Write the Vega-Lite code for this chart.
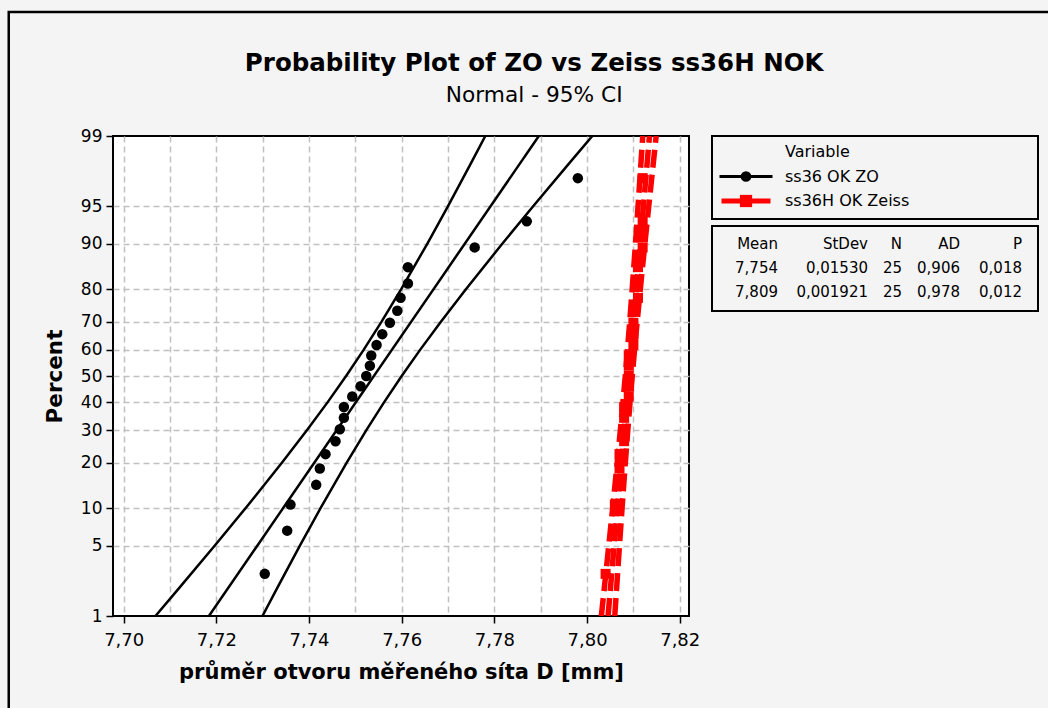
{
  "$schema": "https://vega.github.io/schema/vega-lite/v6.json",
  "background": "#f4f4f4",
  "padding": {"left": 6, "top": 9, "right": 0, "bottom": 0},
  "bounds": "flush",
  "spacing": 23,
  "title": {
    "text": "Probability Plot of ZO vs Zeiss ss36H NOK",
    "subtitle": "Normal - 95% CI",
    "anchor": "middle",
    "dx": -7,
    "font": "DejaVu Sans",
    "fontSize": 24.5,
    "fontWeight": "bold",
    "color": "black",
    "subtitleFont": "DejaVu Sans",
    "subtitleFontSize": 21.7,
    "subtitleColor": "black",
    "subtitlePadding": 9,
    "offset": -98
  },
  "datasets": {
    "main": [
      {"series": "ss36 OK ZO", "kind": "pt", "pct": 2.756, "x": 7.73045},
      {"series": "ss36 OK ZO", "kind": "pt", "pct": 6.693, "x": 7.73529},
      {"series": "ss36 OK ZO", "kind": "pt", "pct": 10.630, "x": 7.73600},
      {"series": "ss36 OK ZO", "kind": "pt", "pct": 14.567, "x": 7.74155},
      {"series": "ss36 OK ZO", "kind": "pt", "pct": 18.504, "x": 7.74233},
      {"series": "ss36 OK ZO", "kind": "pt", "pct": 22.441, "x": 7.74356},
      {"series": "ss36 OK ZO", "kind": "pt", "pct": 26.378, "x": 7.74572},
      {"series": "ss36 OK ZO", "kind": "pt", "pct": 30.315, "x": 7.74665},
      {"series": "ss36 OK ZO", "kind": "pt", "pct": 34.252, "x": 7.74752},
      {"series": "ss36 OK ZO", "kind": "pt", "pct": 38.189, "x": 7.74752},
      {"series": "ss36 OK ZO", "kind": "pt", "pct": 42.126, "x": 7.74933},
      {"series": "ss36 OK ZO", "kind": "pt", "pct": 46.063, "x": 7.75112},
      {"series": "ss36 OK ZO", "kind": "pt", "pct": 50.000, "x": 7.75235},
      {"series": "ss36 OK ZO", "kind": "pt", "pct": 53.937, "x": 7.75313},
      {"series": "ss36 OK ZO", "kind": "pt", "pct": 57.874, "x": 7.75343},
      {"series": "ss36 OK ZO", "kind": "pt", "pct": 61.811, "x": 7.75458},
      {"series": "ss36 OK ZO", "kind": "pt", "pct": 65.748, "x": 7.75581},
      {"series": "ss36 OK ZO", "kind": "pt", "pct": 69.685, "x": 7.75745},
      {"series": "ss36 OK ZO", "kind": "pt", "pct": 73.622, "x": 7.75905},
      {"series": "ss36 OK ZO", "kind": "pt", "pct": 77.559, "x": 7.75976},
      {"series": "ss36 OK ZO", "kind": "pt", "pct": 81.496, "x": 7.76134},
      {"series": "ss36 OK ZO", "kind": "pt", "pct": 85.433, "x": 7.76134},
      {"series": "ss36 OK ZO", "kind": "pt", "pct": 89.370, "x": 7.77575},
      {"series": "ss36 OK ZO", "kind": "pt", "pct": 93.307, "x": 7.78699},
      {"series": "ss36 OK ZO", "kind": "pt", "pct": 97.244, "x": 7.79801},

      {"series": "ss36H OK Zeiss", "kind": "pt", "pct": 2.756, "x": 7.804},
      {"series": "ss36H OK Zeiss", "kind": "pt", "pct": 6.693, "x": 7.806},
      {"series": "ss36H OK Zeiss", "kind": "pt", "pct": 10.630, "x": 7.806},
      {"series": "ss36H OK Zeiss", "kind": "pt", "pct": 14.567, "x": 7.807},
      {"series": "ss36H OK Zeiss", "kind": "pt", "pct": 18.504, "x": 7.807},
      {"series": "ss36H OK Zeiss", "kind": "pt", "pct": 22.441, "x": 7.807},
      {"series": "ss36H OK Zeiss", "kind": "pt", "pct": 26.378, "x": 7.808},
      {"series": "ss36H OK Zeiss", "kind": "pt", "pct": 30.315, "x": 7.808},
      {"series": "ss36H OK Zeiss", "kind": "pt", "pct": 34.252, "x": 7.808},
      {"series": "ss36H OK Zeiss", "kind": "pt", "pct": 38.189, "x": 7.808},
      {"series": "ss36H OK Zeiss", "kind": "pt", "pct": 42.126, "x": 7.809},
      {"series": "ss36H OK Zeiss", "kind": "pt", "pct": 46.063, "x": 7.809},
      {"series": "ss36H OK Zeiss", "kind": "pt", "pct": 50.000, "x": 7.809},
      {"series": "ss36H OK Zeiss", "kind": "pt", "pct": 53.937, "x": 7.809},
      {"series": "ss36H OK Zeiss", "kind": "pt", "pct": 57.874, "x": 7.809},
      {"series": "ss36H OK Zeiss", "kind": "pt", "pct": 61.811, "x": 7.810},
      {"series": "ss36H OK Zeiss", "kind": "pt", "pct": 65.748, "x": 7.810},
      {"series": "ss36H OK Zeiss", "kind": "pt", "pct": 69.685, "x": 7.810},
      {"series": "ss36H OK Zeiss", "kind": "pt", "pct": 73.622, "x": 7.810},
      {"series": "ss36H OK Zeiss", "kind": "pt", "pct": 77.559, "x": 7.811},
      {"series": "ss36H OK Zeiss", "kind": "pt", "pct": 81.496, "x": 7.811},
      {"series": "ss36H OK Zeiss", "kind": "pt", "pct": 85.433, "x": 7.811},
      {"series": "ss36H OK Zeiss", "kind": "pt", "pct": 89.370, "x": 7.812},
      {"series": "ss36H OK Zeiss", "kind": "pt", "pct": 93.307, "x": 7.812},
      {"series": "ss36H OK Zeiss", "kind": "pt", "pct": 97.244, "x": 7.812},

      {"series": "ss36 OK ZO", "kind": "line", "curve": "fit", "pct": 1, "x": 7.718407},
      {"series": "ss36 OK ZO", "kind": "line", "curve": "fit", "pct": 99, "x": 7.789593},
      {"series": "ss36 OK ZO", "kind": "line", "curve": "lower", "pct": 1, "x": 7.706861},
      {"series": "ss36 OK ZO", "kind": "line", "curve": "lower", "pct": 2, "x": 7.712003},
      {"series": "ss36 OK ZO", "kind": "line", "curve": "lower", "pct": 5, "x": 7.719633},
      {"series": "ss36 OK ZO", "kind": "line", "curve": "lower", "pct": 10, "x": 7.726298},
      {"series": "ss36 OK ZO", "kind": "line", "curve": "lower", "pct": 20, "x": 7.734145},
      {"series": "ss36 OK ZO", "kind": "line", "curve": "lower", "pct": 30, "x": 7.739580},
      {"series": "ss36 OK ZO", "kind": "line", "curve": "lower", "pct": 40, "x": 7.744032},
      {"series": "ss36 OK ZO", "kind": "line", "curve": "lower", "pct": 50, "x": 7.748002},
      {"series": "ss36 OK ZO", "kind": "line", "curve": "lower", "pct": 60, "x": 7.751782},
      {"series": "ss36 OK ZO", "kind": "line", "curve": "lower", "pct": 70, "x": 7.755626},
      {"series": "ss36 OK ZO", "kind": "line", "curve": "lower", "pct": 80, "x": 7.759897},
      {"series": "ss36 OK ZO", "kind": "line", "curve": "lower", "pct": 90, "x": 7.765514},
      {"series": "ss36 OK ZO", "kind": "line", "curve": "lower", "pct": 95, "x": 7.769967},
      {"series": "ss36 OK ZO", "kind": "line", "curve": "lower", "pct": 98, "x": 7.774847},
      {"series": "ss36 OK ZO", "kind": "line", "curve": "lower", "pct": 99, "x": 7.778047},
      {"series": "ss36 OK ZO", "kind": "line", "curve": "upper", "pct": 1, "x": 7.729953},
      {"series": "ss36 OK ZO", "kind": "line", "curve": "upper", "pct": 2, "x": 7.733153},
      {"series": "ss36 OK ZO", "kind": "line", "curve": "upper", "pct": 5, "x": 7.738033},
      {"series": "ss36 OK ZO", "kind": "line", "curve": "upper", "pct": 10, "x": 7.742486},
      {"series": "ss36 OK ZO", "kind": "line", "curve": "upper", "pct": 20, "x": 7.748103},
      {"series": "ss36 OK ZO", "kind": "line", "curve": "upper", "pct": 30, "x": 7.752374},
      {"series": "ss36 OK ZO", "kind": "line", "curve": "upper", "pct": 40, "x": 7.756218},
      {"series": "ss36 OK ZO", "kind": "line", "curve": "upper", "pct": 50, "x": 7.759998},
      {"series": "ss36 OK ZO", "kind": "line", "curve": "upper", "pct": 60, "x": 7.763968},
      {"series": "ss36 OK ZO", "kind": "line", "curve": "upper", "pct": 70, "x": 7.768420},
      {"series": "ss36 OK ZO", "kind": "line", "curve": "upper", "pct": 80, "x": 7.773855},
      {"series": "ss36 OK ZO", "kind": "line", "curve": "upper", "pct": 90, "x": 7.781702},
      {"series": "ss36 OK ZO", "kind": "line", "curve": "upper", "pct": 95, "x": 7.788367},
      {"series": "ss36 OK ZO", "kind": "line", "curve": "upper", "pct": 98, "x": 7.795997},
      {"series": "ss36 OK ZO", "kind": "line", "curve": "upper", "pct": 99, "x": 7.801139},

      {"series": "ss36H OK Zeiss", "kind": "line", "curve": "fit", "pct": 1, "x": 7.804531},
      {"series": "ss36H OK Zeiss", "kind": "line", "curve": "fit", "pct": 99, "x": 7.813469},
      {"series": "ss36H OK Zeiss", "kind": "line", "curve": "lower", "pct": 1, "x": 7.803081},
      {"series": "ss36H OK Zeiss", "kind": "line", "curve": "lower", "pct": 2, "x": 7.803727},
      {"series": "ss36H OK Zeiss", "kind": "line", "curve": "lower", "pct": 5, "x": 7.804685},
      {"series": "ss36H OK Zeiss", "kind": "line", "curve": "lower", "pct": 10, "x": 7.805522},
      {"series": "ss36H OK Zeiss", "kind": "line", "curve": "lower", "pct": 20, "x": 7.806507},
      {"series": "ss36H OK Zeiss", "kind": "line", "curve": "lower", "pct": 30, "x": 7.807190},
      {"series": "ss36H OK Zeiss", "kind": "line", "curve": "lower", "pct": 40, "x": 7.807748},
      {"series": "ss36H OK Zeiss", "kind": "line", "curve": "lower", "pct": 50, "x": 7.808247},
      {"series": "ss36H OK Zeiss", "kind": "line", "curve": "lower", "pct": 60, "x": 7.808722},
      {"series": "ss36H OK Zeiss", "kind": "line", "curve": "lower", "pct": 70, "x": 7.809204},
      {"series": "ss36H OK Zeiss", "kind": "line", "curve": "lower", "pct": 80, "x": 7.809741},
      {"series": "ss36H OK Zeiss", "kind": "line", "curve": "lower", "pct": 90, "x": 7.810446},
      {"series": "ss36H OK Zeiss", "kind": "line", "curve": "lower", "pct": 95, "x": 7.811005},
      {"series": "ss36H OK Zeiss", "kind": "line", "curve": "lower", "pct": 98, "x": 7.811617},
      {"series": "ss36H OK Zeiss", "kind": "line", "curve": "lower", "pct": 99, "x": 7.812019},
      {"series": "ss36H OK Zeiss", "kind": "line", "curve": "upper", "pct": 1, "x": 7.805981},
      {"series": "ss36H OK Zeiss", "kind": "line", "curve": "upper", "pct": 2, "x": 7.806383},
      {"series": "ss36H OK Zeiss", "kind": "line", "curve": "upper", "pct": 5, "x": 7.806995},
      {"series": "ss36H OK Zeiss", "kind": "line", "curve": "upper", "pct": 10, "x": 7.807554},
      {"series": "ss36H OK Zeiss", "kind": "line", "curve": "upper", "pct": 20, "x": 7.808259},
      {"series": "ss36H OK Zeiss", "kind": "line", "curve": "upper", "pct": 30, "x": 7.808796},
      {"series": "ss36H OK Zeiss", "kind": "line", "curve": "upper", "pct": 40, "x": 7.809278},
      {"series": "ss36H OK Zeiss", "kind": "line", "curve": "upper", "pct": 50, "x": 7.809753},
      {"series": "ss36H OK Zeiss", "kind": "line", "curve": "upper", "pct": 60, "x": 7.810252},
      {"series": "ss36H OK Zeiss", "kind": "line", "curve": "upper", "pct": 70, "x": 7.810810},
      {"series": "ss36H OK Zeiss", "kind": "line", "curve": "upper", "pct": 80, "x": 7.811493},
      {"series": "ss36H OK Zeiss", "kind": "line", "curve": "upper", "pct": 90, "x": 7.812478},
      {"series": "ss36H OK Zeiss", "kind": "line", "curve": "upper", "pct": 95, "x": 7.813315},
      {"series": "ss36H OK Zeiss", "kind": "line", "curve": "upper", "pct": 98, "x": 7.814273},
      {"series": "ss36H OK Zeiss", "kind": "line", "curve": "upper", "pct": 99, "x": 7.814919}
    ],
    "legend": [
      {"label": "Variable", "kind": "head"},
      {"label": "ss36 OK ZO", "kind": "item"},
      {"label": "ss36H OK Zeiss", "kind": "item"}
    ],
    "stats": [
      {"row": 0, "col": 0, "text": "Mean"},
      {"row": 0, "col": 1, "text": "StDev"},
      {"row": 0, "col": 2, "text": "N"},
      {"row": 0, "col": 3, "text": "AD"},
      {"row": 0, "col": 4, "text": "P"},
      {"row": 1, "col": 0, "text": "7,754"},
      {"row": 1, "col": 1, "text": "0,01530"},
      {"row": 1, "col": 2, "text": "25"},
      {"row": 1, "col": 3, "text": "0,906"},
      {"row": 1, "col": 4, "text": "0,018"},
      {"row": 2, "col": 0, "text": "7,809"},
      {"row": 2, "col": 1, "text": "0,001921"},
      {"row": 2, "col": 2, "text": "25"},
      {"row": 2, "col": 3, "text": "0,978"},
      {"row": 2, "col": 4, "text": "0,012"}
    ]
  },
  "hconcat": [
    {
      "width": 576,
      "height": 480,
      "view": {"fill": "white", "stroke": "black", "strokeWidth": 2},
      "data": {"name": "main"},
      "transform": [{"calculate": "quantileNormal(datum.pct / 100)", "as": "z"}],
      "encoding": {
        "x": {
          "field": "x",
          "type": "quantitative",
          "scale": {"domain": [7.6977, 7.822], "nice": false, "zero": false},
          "axis": {
            "values": [7.70, 7.71, 7.72, 7.73, 7.74, 7.75, 7.76, 7.77, 7.78, 7.79, 7.80, 7.81, 7.82],
            "labelExpr": "round(datum.value * 100) % 2 == 0 ? replace(format(datum.value, '.2f'), '.', ',') : ''",
            "tickOpacity": {"condition": {"test": "round(datum.value * 100) % 2 == 0", "value": 1}, "value": 0},
            "grid": true,
            "gridColor": "#c0c0c0",
            "gridDash": [6, 4],
            "gridWidth": 1.5,
            "domain": false,
            "tickColor": "black",
            "tickSize": 7,
            "tickWidth": 1.5,
            "labelFont": "DejaVu Sans",
            "labelFontSize": 18,
            "labelColor": "black",
            "labelPadding": 8,
            "labelFlush": false,
            "labelOverlap": false,
            "title": "průměr otvoru měřeného síta D [mm]",
            "titleFont": "DejaVu Sans",
            "titleFontSize": 21,
            "titleFontWeight": "bold",
            "titleColor": "black",
            "titlePadding": 12
          }
        },
        "y": {
          "field": "z",
          "type": "quantitative",
          "scale": {"domain": [-2.326348, 2.326348], "nice": false, "zero": false},
          "axis": {
            "values": [-2.326348, -1.644854, -1.281552, -0.841621, -0.524401, -0.253347, 0, 0.253347, 0.524401, 0.841621, 1.281552, 1.644854, 2.326348],
            "labelExpr": "format(cumulativeNormal(datum.value) * 100, '.0f')",
            "grid": true,
            "gridColor": "#c0c0c0",
            "gridDash": [6, 4],
            "gridWidth": 1.5,
            "gridOpacity": {"condition": {"test": "abs(datum.value) > 2.3", "value": 0}, "value": 1},
            "domain": false,
            "tickColor": "black",
            "tickSize": 7,
            "tickWidth": 1.5,
            "labelFont": "DejaVu Sans",
            "labelFontSize": 17,
            "labelColor": "black",
            "labelPadding": 4,
            "labelOverlap": false,
            "labelFlush": false,
            "title": "Percent",
            "titleFont": "DejaVu Sans",
            "titleFontSize": 21.5,
            "titleFontWeight": "bold",
            "titleColor": "black",
            "titlePadding": 14
          }
        }
      },
      "layer": [
        {
          "transform": [{"filter": "datum.kind == 'line' && datum.curve == 'fit' && datum.pct == 1 && datum.series == 'ss36 OK ZO'"}],
          "mark": {"type": "rect", "filled": false, "stroke": "black", "color": "black", "strokeWidth": 2.5, "opacity": 1, "clip": false},
          "encoding": {
            "x": {"datum": 7.6752, "type": "quantitative"},
            "x2": {"datum": 7.905},
            "y": {"datum": 3.5283, "type": "quantitative"},
            "y2": {"datum": -3.35}
          }
        },
        {
          "transform": [{"filter": "datum.kind == 'line' && datum.series == 'ss36 OK ZO'"}],
          "mark": {"type": "line", "color": "black", "strokeWidth": 2.5, "clip": true},
          "encoding": {"detail": {"field": "curve"}, "order": {"field": "pct", "type": "quantitative"}}
        },
        {
          "transform": [{"filter": "datum.kind == 'pt' && datum.series == 'ss36 OK ZO'"}],
          "mark": {"type": "point", "shape": "circle", "filled": true, "color": "black", "opacity": 1, "size": 110}
        },
        {
          "transform": [{"filter": "datum.kind == 'pt' && datum.series == 'ss36H OK Zeiss'"}],
          "mark": {"type": "point", "shape": "square", "filled": true, "color": "red", "opacity": 1, "size": 100}
        },
        {
          "transform": [{"filter": "datum.kind == 'line' && datum.series == 'ss36H OK Zeiss'"}],
          "mark": {"type": "line", "color": "red", "strokeWidth": 5.5, "strokeDash": [18, 7], "clip": true},
          "encoding": {"detail": {"field": "curve"}, "order": {"field": "pct", "type": "quantitative"}}
        }
      ]
    },
    {
      "bounds": "flush",
      "spacing": 7,
      "vconcat": [
        {
          "width": 326,
          "height": 83,
          "view": {"stroke": "black", "strokeWidth": 2, "fill": null},
          "data": {"name": "legend"},
          "encoding": {
            "y": {
              "field": "label",
              "type": "nominal",
              "scale": {"type": "point", "padding": 0, "domain": ["Variable", "ss36 OK ZO", "ss36H OK Zeiss"], "range": [16, 65]},
              "axis": null
            }
          },
          "layer": [
            {
              "mark": {"type": "text", "align": "left", "baseline": "middle", "font": "DejaVu Sans", "fontSize": 16, "color": "black"},
              "encoding": {
                "x": {"datum": "label", "type": "nominal", "scale": {"type": "point", "padding": 0, "domain": ["symbol", "label"], "range": [34, 73]}, "axis": null},
                "text": {"field": "label"}
              }
            },
            {
              "transform": [{"filter": "datum.label == 'ss36 OK ZO'"}],
              "mark": {"type": "tick", "orient": "horizontal", "thickness": 3, "size": 53, "color": "black", "opacity": 1},
              "encoding": {"x": {"datum": "symbol", "type": "nominal"}}
            },
            {
              "transform": [{"filter": "datum.label == 'ss36H OK Zeiss'"}],
              "mark": {"type": "tick", "orient": "horizontal", "thickness": 5, "size": 49, "color": "red", "opacity": 1},
              "encoding": {"x": {"datum": "symbol", "type": "nominal"}}
            },
            {
              "transform": [{"filter": "datum.kind == 'item'"}],
              "mark": {"type": "point", "filled": true, "opacity": 1},
              "encoding": {
                "x": {"datum": "symbol", "type": "nominal"},
                "shape": {"field": "label", "type": "nominal", "scale": {"domain": ["ss36 OK ZO", "ss36H OK Zeiss"], "range": ["circle", "square"]}, "legend": null},
                "color": {"field": "label", "type": "nominal", "scale": {"domain": ["ss36 OK ZO", "ss36H OK Zeiss"], "range": ["black", "red"]}, "legend": null},
                "size": {"field": "label", "type": "nominal", "scale": {"domain": ["ss36 OK ZO", "ss36H OK Zeiss"], "range": [115, 150]}, "legend": null}
              }
            }
          ]
        },
        {
          "width": 326,
          "height": 85,
          "view": {"stroke": "black", "strokeWidth": 2, "fill": null},
          "data": {"name": "stats"},
          "mark": {"type": "text", "align": "right", "baseline": "middle", "font": "DejaVu Sans", "fontSize": 15, "color": "black"},
          "encoding": {
            "x": {"field": "col", "type": "quantitative", "scale": {"domain": [0, 1, 2, 3, 4], "range": [66, 156, 190, 248, 310]}, "axis": null},
            "y": {"field": "row", "type": "ordinal", "scale": {"type": "point", "padding": 0, "range": [18, 66]}, "axis": null},
            "text": {"field": "text"}
          }
        }
      ]
    }
  ],
  "config": {
    "font": "DejaVu Sans",
    "view": {"stroke": null}
  }
}
